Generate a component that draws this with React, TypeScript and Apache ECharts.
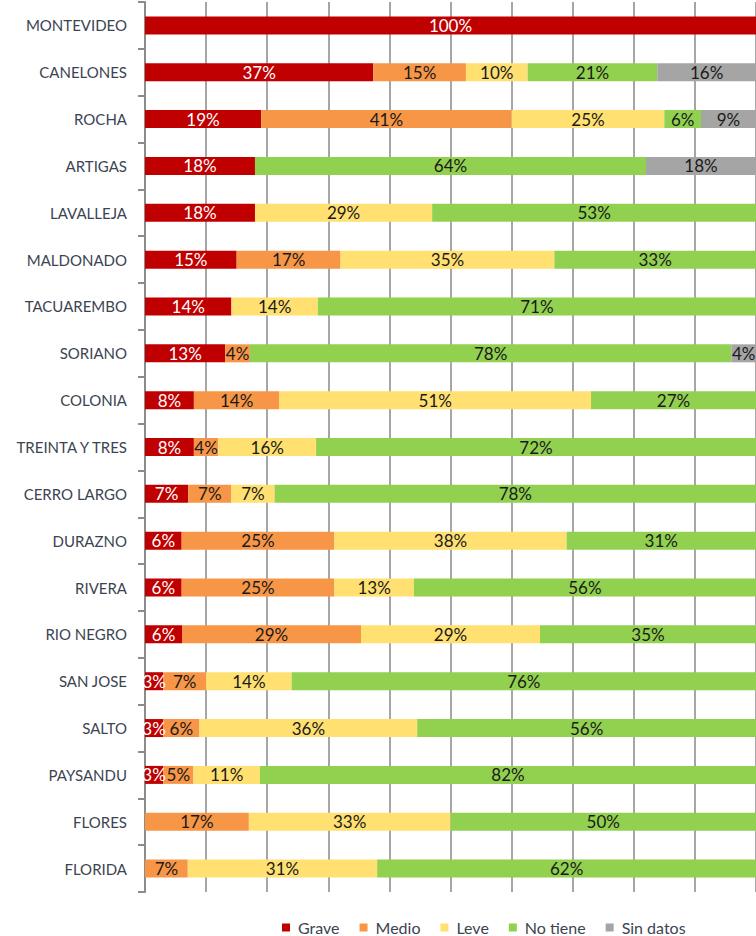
import React, { useEffect, useRef } from "react";
import * as echarts from "echarts";

const categories = [
  "MONTEVIDEO", "CANELONES", "ROCHA", "ARTIGAS", "LAVALLEJA", "MALDONADO",
  "TACUAREMBO", "SORIANO", "COLONIA", "TREINTA Y TRES", "CERRO LARGO",
  "DURAZNO", "RIVERA", "RIO NEGRO", "SAN JOSE", "SALTO", "PAYSANDU",
  "FLORES", "FLORIDA",
];

const seriesNames = ["Grave", "Medio", "Leve", "No tiene", "Sin datos"];

const grave = [100, 37, 19, 18, 18, 15, 14, 13, 8, 8, 7, 6, 6, 6, 3, 3, 3, 0, 0];
const medio = [0, 15, 41, 0, 0, 17, 0, 4, 14, 4, 7, 25, 25, 29, 7, 6, 5, 17, 7];
const leve = [0, 10, 25, 0, 29, 35, 14, 0, 51, 16, 7, 38, 13, 29, 14, 36, 11, 33, 31];
const noTiene = [0, 21, 6, 64, 53, 33, 71, 78, 27, 72, 78, 31, 56, 35, 76, 56, 82, 50, 62];
const sinDatos = [0, 16, 9, 18, 0, 0, 0, 4, 0, 0, 0, 0, 0, 0, 0, 0, 0, 0, 0];

const colors = ["#C00000", "#F79646", "#FFE071", "#92D050", "#A5A5A5"];

export default function App() {
  const ref = useRef<HTMLDivElement>(null);

  useEffect(() => {
    if (!ref.current) return;
    const chart = echarts.init(ref.current, null, { renderer: "svg" });
    const all = [grave, medio, leve, noTiene, sinDatos];
    const totals = categories.map((_, i) => all.reduce((s, arr) => s + arr[i], 0));
    const font = "Lato, 'Open Sans', sans-serif";

    const series = all.map((arr, si) => ({
      name: seriesNames[si],
      type: "bar",
      stack: "total",
      barWidth: 18,
      itemStyle: { color: colors[si] },
      data: arr.map((v, i) => (totals[i] ? (v / totals[i]) * 100 : 0)),
      label: {
        show: true,
        position: "inside",
        fontFamily: font,
        fontSize: 17,
        color: si === 0 ? "#FFFFFF" : "#1A1A1A",
        formatter: (p: any) => {
          const raw = arr[p.dataIndex];
          return raw > 0 ? raw + "%" : "";
        },
      },
      emphasis: { disabled: true },
    }));

    chart.setOption({
      animation: false,
      grid: { left: 145, right: 0, top: 2, bottom: 44, containLabel: false },
      legend: {
        data: seriesNames,
        left: 282,
        top: 919,
        padding: 0,
        icon: "rect",
        itemWidth: 8,
        itemHeight: 8,
        itemGap: 20,
        textStyle: {
          fontFamily: font,
          fontSize: 16,
          lineHeight: 17,
          color: "#3C4452",
          padding: [0, 0, 0, 3],
        },
      },
      xAxis: {
        type: "value",
        min: 0,
        max: 100,
        interval: 10,
        axisLine: { show: false },
        axisTick: { show: false },
        axisLabel: { show: false },
        splitLine: { show: true, lineStyle: { color: "#A6A6A6", width: 2 } },
      },
      yAxis: {
        type: "category",
        inverse: true,
        data: categories,
        axisLine: { show: true, lineStyle: { color: "#8C8C8C", width: 2 } },
        axisTick: { show: true, length: 7, lineStyle: { color: "#8C8C8C", width: 2 } },
        axisLabel: { margin: 18, fontFamily: font, fontSize: 15, color: "#3C4452" },
      },
      series,
    });

    return () => chart.dispose();
  }, []);

  return (
    <div
      ref={ref}
      style={{ position: "fixed", left: 0, top: 0, width: 756, height: 936, background: "#fff" }}
    />
  );
}
